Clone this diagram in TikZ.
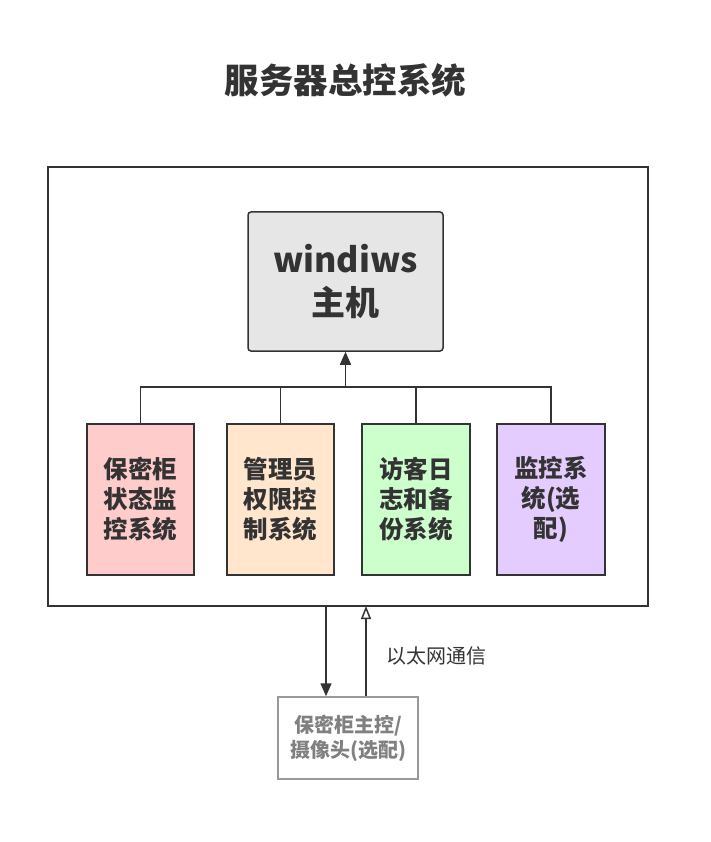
\documentclass[tikz,border=0pt]{standalone}
\usepackage{fontspec}
\newfontfamily\cjk{Noto Sans CJK SC}
\usetikzlibrary{arrows.meta}
\definecolor{ink}{HTML}{333333}
\definecolor{greyink}{HTML}{999999}
\definecolor{greytext}{HTML}{808080}
\definecolor{wfill}{HTML}{E6E6E6}
\definecolor{redfill}{HTML}{FFCCCC}
\definecolor{orangefill}{HTML}{FFE6CC}
\definecolor{greenfill}{HTML}{CCFFCC}
\definecolor{purplefill}{HTML}{E5CCFF}
\begin{document}
\begin{tikzpicture}[x=1pt,y=-1pt,
  box/.style={draw=ink, line width=1.5pt, inner sep=0pt, align=center, text=ink},
  subbox/.style={box, minimum width=107pt, minimum height=151pt,
     font=\cjk\bfseries\fontsize{24.5}{30}\selectfont},
  conn/.style={draw=ink, line width=1.5pt},
  fillhead/.style={-{Triangle[length=13pt,width=11pt]}},
  openhead/.style={-{Triangle[open,length=13pt,width=10pt,fill=white]}}]
\useasboundingbox (0,0) rectangle (710,842);
\fill[white] (0,0) rectangle (710,842);

\node[text=ink, font=\cjk\bfseries\fontsize{34.5}{40}\selectfont] (title) at (345.5,80) {服务器总控系统};

\node[box, minimum width=600pt, minimum height=439pt] (outer) at (348,386.5) {};

\node[box, rounded corners=3pt, fill=wfill, minimum width=195pt, minimum height=139pt,
  font=\cjk\bfseries\fontsize{34}{43}\selectfont] (win) at (345.5,281.5) {windiws\\主机};

\node[subbox, fill=redfill] (s1) at (140.5,499.5) {保密柜\\状态监\\控系统};
\node[subbox, fill=orangefill] (s2) at (280.5,499.5) {管理员\\权限控\\制系统};
\node[subbox, fill=greenfill, minimum width=108pt] (s3) at (416,499.5) {访客日\\志和备\\份系统};
\node[subbox, fill=purplefill, minimum width=108pt] (s4) at (551,499.5) {监控系\\统(选\\配)};

\coordinate (bus) at (345.5,387);
\draw[conn] (s1.north) |- (bus) -| (s4.north);
\draw[conn] (s2.north) -- (s2.north |- bus);
\draw[conn] (s3.north) -- (s3.north |- bus);
\draw[conn, fillhead] (bus) -- (win.south);

\node[box, draw=greyink, text=greytext, minimum width=140pt, minimum height=82pt,
  font=\cjk\bfseries\fontsize{20}{25}\selectfont] (cam) at (348,738) {保密柜主控/\\摄像头(选配)};

\coordinate (d1) at (326,606);
\coordinate (u1) at (366,606);
\draw[conn, fillhead] (d1) -- (d1 |- cam.north);
\draw[conn, openhead] (u1 |- cam.north) -- (u1);

\node[text=ink, font=\cjk\fontsize{20}{24}\selectfont, anchor=west] (lbl) at (383,656) {以太网通信};
\end{tikzpicture}
\end{document}
